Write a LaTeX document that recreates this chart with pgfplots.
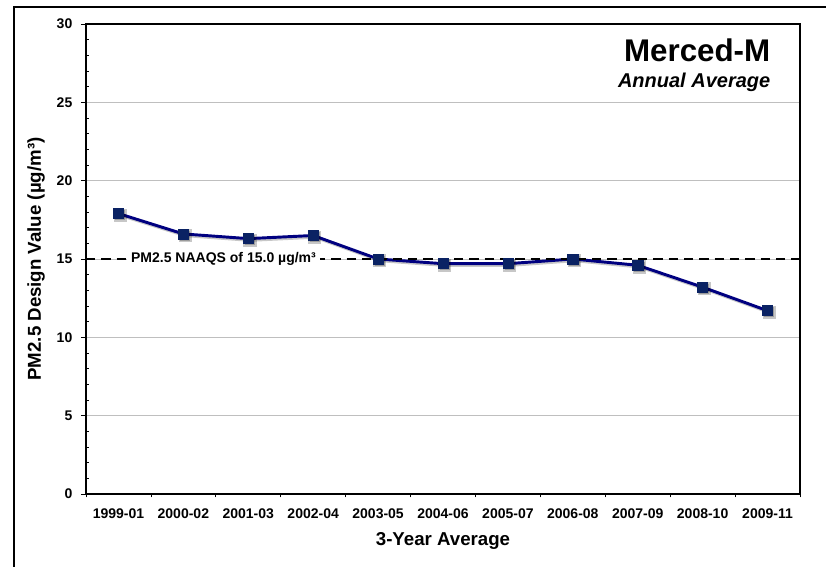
\documentclass[border=0pt]{standalone}
\usepackage{pgfplots}
\pgfplotsset{compat=1.18}
\usepackage{fontspec}
\setmainfont{Liberation Sans}
\definecolor{serline}{RGB}{0,0,128}
\definecolor{sermark}{RGB}{10,34,99}
\pgfplotstableread{
x y
0 17.9
1 16.6
2 16.3
3 16.5
4 15.0
5 14.7
6 14.7
7 15.0
8 14.6
9 13.2
10 11.7
}\dvtable
\begin{document}
\begin{tikzpicture}
\useasboundingbox (0,0) rectangle (619.5pt,-425.25pt);
\draw[line width=1.5pt] (10.5pt,-430pt) -- (10.5pt,-5.25pt) -- (625pt,-5.25pt);
\begin{axis}[
  at={(64.5pt,-18pt)}, anchor=north west,
  scale only axis, width=535.5pt, height=352.5pt,
  xmin=-0.5, xmax=10.5, ymin=0, ymax=30,
  xtick pos=bottom, ytick pos=left,
  xtick={0,...,10},
  xticklabels={1999-01,2000-02,2001-03,2002-04,2003-05,2004-06,2005-07,2006-08,2007-09,2008-10,2009-11},
  major x tick style={draw=none},
  minor xtick={-0.5,0.5,...,10.5},
  ytick={0,5,...,30},
  minor ytick={1,2,3,4,6,7,8,9,11,12,13,14,16,17,18,19,21,22,23,24,26,27,28,29},
  tick align=outside,
  major tick length=3.75pt,
  minor tick length=2.5pt,
  minor x tick style={black, line width=0.6pt},
  minor y tick style={black, line width=0.6pt, xshift=2.5pt},
  major tick style={black, line width=0.6pt},
  ymajorgrids,
  major grid style={draw=black!25, line width=0.6pt},
  axis line style={line width=1.1pt},
  /pgf/number format/assume math mode=true,
  ticklabel style={font=\fontsize{10.5}{12}\selectfont\bfseries},
  xticklabel style={yshift=-4pt},
  yticklabel style={xshift=-3pt},
  xlabel={3-Year Average},
  xlabel style={at={(axis description cs:0.5,0)}, anchor=center, yshift=-35pt, font=\fontsize{14}{16}\selectfont\bfseries},
  ylabel={PM2.5 Design Value (µg/m³)},
  ylabel style={at={(axis description cs:-0.07,0.5)}, anchor=center, font=\fontsize{14}{16}\selectfont\bfseries},
  clip=false,
]
\addplot[black, opacity=0.22, line width=2.2pt, mark=square*, mark size=3.8pt, mark options={solid}, shift={(1.3pt,-1.3pt)}] table[x=x,y=y] {\dvtable};
\addplot[serline, line width=2.2pt, no marks] table[x=x,y=y] {\dvtable};
\addplot[black, line width=2pt, dash pattern=on 7pt off 4.5pt, no marks] coordinates {(-0.5,15) (10.5,15)};
\node[fill=white, inner xsep=3pt, inner ysep=1pt, anchor=west, font=\fontsize{10.5}{12}\selectfont\bfseries] at (axis cs:0.13,15) {PM2.5 NAAQS of 15.0 µg/m³};
\addplot[only marks, mark=square*, mark size=3.8pt, draw=sermark, fill=sermark] table[x=x,y=y] {\dvtable};
\end{axis}
\node[anchor=base east, font=\fontsize{23.5}{26}\selectfont\bfseries] at (581.25pt,-46.5pt) {Merced-M};
\node[anchor=base east, font=\fontsize{15}{18}\selectfont\bfseries\itshape] at (581.25pt,-66pt) {Annual Average};
\end{tikzpicture}
\end{document}
